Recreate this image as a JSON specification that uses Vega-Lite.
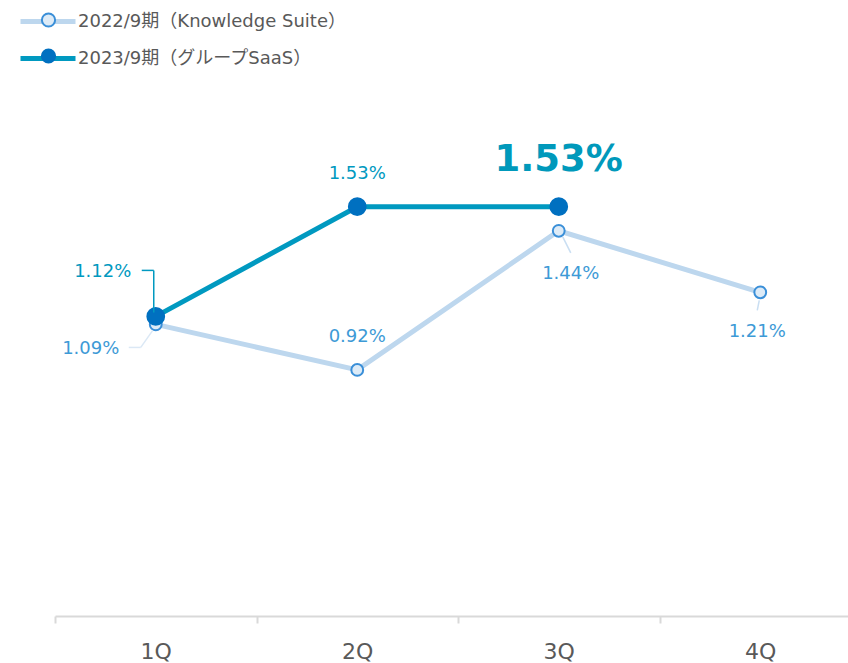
{
  "$schema": "https://vega.github.io/schema/vega-lite/v6.json",
  "width": 806,
  "height": 535,
  "autosize": {"type": "none"},
  "padding": {"left": 55, "top": 81, "right": 0, "bottom": 47},
  "background": "white",
  "config": {
    "view": {"stroke": null},
    "font": "DejaVu Sans, Noto Sans CJK JP",
    "text": {"font": "DejaVu Sans, Noto Sans CJK JP"}
  },
  "data": {
    "values": [
      {"q": "1Q", "yr": 2022, "s": "2022/9期（Knowledge Suite）", "v": 1.09, "lab": "1.09%"},
      {"q": "2Q", "yr": 2022, "s": "2022/9期（Knowledge Suite）", "v": 0.92, "lab": "0.92%"},
      {"q": "3Q", "yr": 2022, "s": "2022/9期（Knowledge Suite）", "v": 1.44, "lab": "1.44%"},
      {"q": "4Q", "yr": 2022, "s": "2022/9期（Knowledge Suite）", "v": 1.21, "lab": "1.21%"},
      {"q": "1Q", "yr": 2023, "s": "2023/9期（グループSaaS）", "v": 1.12, "lab": "1.12%"},
      {"q": "2Q", "yr": 2023, "s": "2023/9期（グループSaaS）", "v": 1.53, "lab": "1.53%"},
      {"q": "3Q", "yr": 2023, "s": "2023/9期（グループSaaS）", "v": 1.53, "lab": "1.53%"}
    ]
  },
  "encoding": {
    "x": {
      "field": "q", "type": "nominal",
      "scale": {"type": "band", "paddingInner": 0, "paddingOuter": 0, "domain": ["1Q", "2Q", "3Q", "4Q"]},
      "axis": {
        "title": null, "labelAngle": 0, "tickBand": "extent",
        "domainColor": "#d9d9d9", "domainWidth": 2, "tickColor": "#d9d9d9", "tickWidth": 2, "tickSize": 7,
        "labelFontSize": 22, "labelColor": "#595959", "labelPadding": 18, "labelFont": "DejaVu Sans"
      }
    },
    "y": {
      "field": "v", "type": "quantitative",
      "scale": {"domain": [0, 2], "nice": false, "zero": true},
      "axis": null
    }
  },
  "layer": [
    {
      "mark": {"type": "line", "strokeWidth": 5},
      "encoding": {
        "color": {
          "field": "s", "type": "nominal",
          "scale": {"range": ["#bdd7ee", "#0099c0"]},
          "legend": {
            "orient": "none", "legendX": -20.5, "legendY": -73, "title": null, "padding": 0,
            "symbolType": "M-2.5,0H2.5", "symbolSize": 484, "symbolStrokeWidth": 5,
            "labelFontSize": 18, "labelColor": "#595959", "labelFont": "DejaVu Sans, Noto Sans CJK JP",
            "labelOffset": 16.5, "rowPadding": 13, "labelLimit": 500
          }
        }
      }
    },
    {
      "mark": {"type": "point", "filled": true, "opacity": 1, "strokeWidth": 2},
      "encoding": {
        "fill": {
          "field": "s", "type": "nominal",
          "scale": {"domain": ["2022/9期（Knowledge Suite）", "2023/9期（グループSaaS）"], "range": ["#ddebf7", "#0070c0"]},
          "legend": {
            "orient": "none", "legendX": -18.5, "legendY": -73, "title": null, "padding": 0,
            "symbolType": "M-0.6,0A0.6,0.6,0,1,1,0.6,0A0.6,0.6,0,1,1,-0.6,0Z", "symbolSize": 484, "symbolStrokeWidth": 2,
            "labelFontSize": 18, "labelExpr": "''", "labelFont": "DejaVu Sans, Noto Sans CJK JP",
            "labelOffset": 16.5, "rowPadding": 13, "labelLimit": 500
          }
        },
        "stroke": {
          "field": "s", "type": "nominal",
          "scale": {"domain": ["2022/9期（Knowledge Suite）", "2023/9期（グループSaaS）"], "range": ["#3a8fd8", "#0070c0"]},
          "legend": {
            "orient": "none", "legendX": -18.5, "legendY": -73, "title": null, "padding": 0,
            "symbolType": "M-0.6,0A0.6,0.6,0,1,1,0.6,0A0.6,0.6,0,1,1,-0.6,0Z", "symbolSize": 484, "symbolStrokeWidth": 2,
            "labelFontSize": 18, "labelExpr": "''", "labelFont": "DejaVu Sans, Noto Sans CJK JP",
            "labelOffset": 16.5, "rowPadding": 13, "labelLimit": 500
          }
        },
        "size": {"field": "s", "type": "nominal", "scale": {"range": [140, 280]}, "legend": null}
      }
    },
    {
      "transform": [{"filter": "datum.yr == 2023 && datum.q == '1Q'"}],
      "mark": {"type": "rule", "color": "#0099c0", "strokeWidth": 1.5, "xOffset": -14, "x2Offset": -2, "yOffset": -46, "y2Offset": -46},
      "encoding": {"x2": {"field": "q", "bandPosition": 0.5}, "y2": {"field": "v"}, "x": {"field": "q", "type": "nominal", "bandPosition": 0.5}}
    },
    {
      "transform": [{"filter": "datum.yr == 2023 && datum.q == '1Q'"}],
      "mark": {"type": "rule", "color": "#0099c0", "strokeWidth": 1.5, "xOffset": -2, "x2Offset": -2, "yOffset": -46, "y2Offset": -4},
      "encoding": {"x2": {"field": "q", "bandPosition": 0.5}, "y2": {"field": "v"}, "x": {"field": "q", "type": "nominal", "bandPosition": 0.5}}
    },
    {
      "transform": [{"filter": "datum.yr == 2022 && datum.q == '1Q'"}],
      "mark": {"type": "rule", "color": "#dbe8f5", "strokeWidth": 1.5, "xOffset": -27, "x2Offset": -15, "yOffset": 23, "y2Offset": 23},
      "encoding": {"x2": {"field": "q", "bandPosition": 0.5}, "y2": {"field": "v"}, "x": {"field": "q", "type": "nominal", "bandPosition": 0.5}}
    },
    {
      "transform": [{"filter": "datum.yr == 2022 && datum.q == '1Q'"}],
      "mark": {"type": "rule", "color": "#dbe8f5", "strokeWidth": 1.5, "xOffset": -15, "x2Offset": -3, "yOffset": 23, "y2Offset": 6},
      "encoding": {"x2": {"field": "q", "bandPosition": 0.5}, "y2": {"field": "v"}, "x": {"field": "q", "type": "nominal", "bandPosition": 0.5}}
    },
    {
      "transform": [{"filter": "datum.yr == 2022 && datum.q == '3Q'"}],
      "mark": {"type": "rule", "color": "#c9def2", "strokeWidth": 1.5, "xOffset": 4, "x2Offset": 12, "yOffset": 6, "y2Offset": 22},
      "encoding": {"x2": {"field": "q", "bandPosition": 0.5}, "y2": {"field": "v"}, "x": {"field": "q", "type": "nominal", "bandPosition": 0.5}}
    },
    {
      "transform": [{"filter": "datum.yr == 2022 && datum.q == '4Q'"}],
      "mark": {"type": "rule", "color": "#c9def2", "strokeWidth": 1.5, "xOffset": -1, "x2Offset": -3, "yOffset": 8, "y2Offset": 18},
      "encoding": {"x2": {"field": "q", "bandPosition": 0.5}, "y2": {"field": "v"}, "x": {"field": "q", "type": "nominal", "bandPosition": 0.5}}
    },
    {
      "transform": [{"filter": "datum.yr == 2022 && datum.q == '1Q'"}],
      "mark": {"type": "text", "fontSize": 18, "color": "#3d9ad6", "baseline": "middle", "dx": -65, "dy": 25},
      "encoding": {"text": {"field": "lab"}}
    },
    {
      "transform": [{"filter": "datum.yr == 2022 && datum.q == '2Q'"}],
      "mark": {"type": "text", "fontSize": 18, "color": "#3d9ad6", "baseline": "middle", "dy": -33},
      "encoding": {"text": {"field": "lab"}}
    },
    {
      "transform": [{"filter": "datum.yr == 2022 && datum.q == '3Q'"}],
      "mark": {"type": "text", "fontSize": 18, "color": "#3d9ad6", "baseline": "middle", "dx": 12, "dy": 43},
      "encoding": {"text": {"field": "lab"}}
    },
    {
      "transform": [{"filter": "datum.yr == 2022 && datum.q == '4Q'"}],
      "mark": {"type": "text", "fontSize": 18, "color": "#3d9ad6", "baseline": "middle", "dx": -3, "dy": 40},
      "encoding": {"text": {"field": "lab"}}
    },
    {
      "transform": [{"filter": "datum.yr == 2023 && datum.q == '1Q'"}],
      "mark": {"type": "text", "fontSize": 18, "color": "#0099c0", "baseline": "middle", "dx": -53, "dy": -44},
      "encoding": {"text": {"field": "lab"}}
    },
    {
      "transform": [{"filter": "datum.yr == 2023 && datum.q == '2Q'"}],
      "mark": {"type": "text", "fontSize": 18, "color": "#0099c0", "baseline": "middle", "dy": -33},
      "encoding": {"text": {"field": "lab"}}
    },
    {
      "transform": [{"filter": "datum.yr == 2023 && datum.q == '3Q'"}],
      "mark": {"type": "text", "fontSize": 37, "fontWeight": "bold", "color": "#0099bb", "baseline": "middle", "dy": -47},
      "encoding": {"text": {"field": "lab"}}
    }
  ]
}
